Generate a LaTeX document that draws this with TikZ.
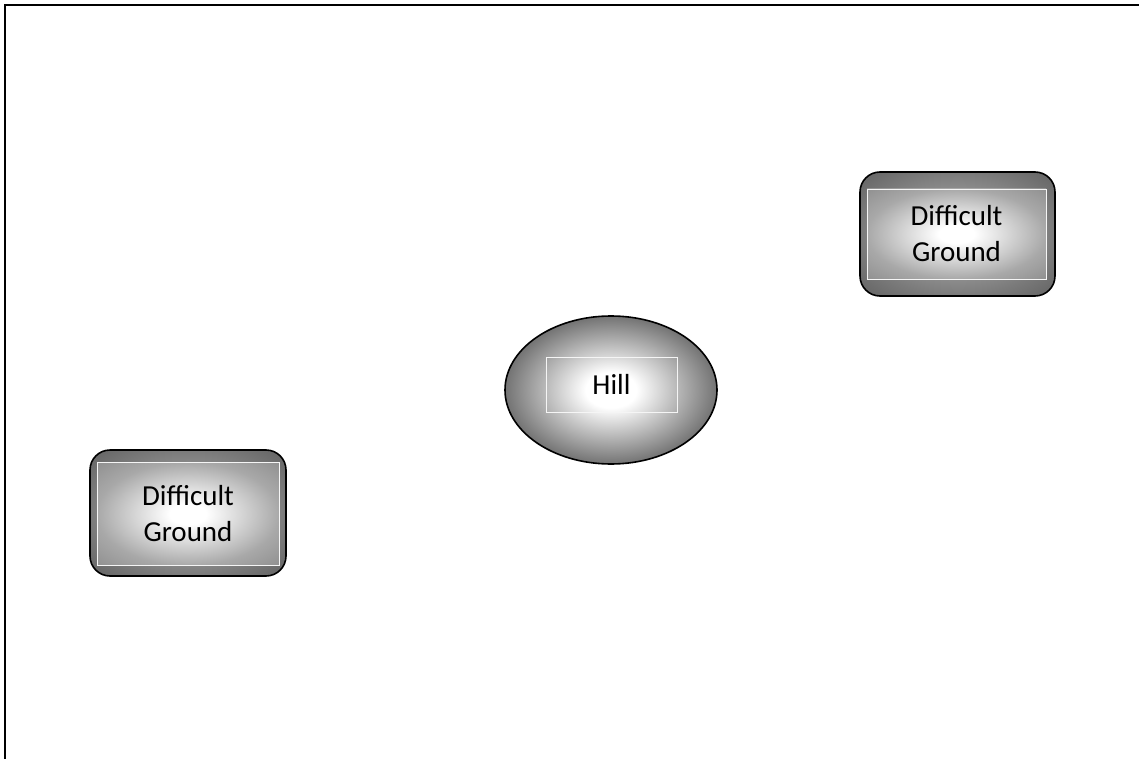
\documentclass[tikz,border=0pt]{standalone}
\usepackage{fontspec}
\setmainfont{Carlito}
\usetikzlibrary{shapes.geometric}
\pgfdeclareradialshading{hillglow}{\pgfpoint{0bp}{0bp}}{color(0bp)=(white); color(6bp)=(white); color(25bp)=(black!55); color(36bp)=(black!65); color(50bp)=(black!65)}
\pgfdeclareradialshading{bandglow}{\pgfpoint{0bp}{0bp}}{color(0bp)=(white); color(15bp)=(black!42); color(25bp)=(black!52); color(36bp)=(black!62); color(50bp)=(black!62)}
\pgfdeclareradialshading{innerglow}{\pgfpoint{0bp}{0bp}}{color(0bp)=(white); color(5bp)=(white); color(25bp)=(black!34); color(36bp)=(black!44); color(50bp)=(black!44)}
\tikzset{
  framebox/.style={rounded corners=20pt, draw=black, line width=1.6pt, shading=bandglow, inner sep=0pt},
  innerbox/.style={rectangle, draw=white!92!gray, line width=0.8pt, shading=innerglow, inner sep=0pt, align=center, font=\fontsize{29}{36}\selectfont},
  hillshape/.style={ellipse, draw=black, line width=1.6pt, shading=hillglow, inner sep=0pt},
  hillbox/.style={rectangle, draw=white!92!gray, line width=0.8pt, inner sep=0pt, font=\fontsize{29}{36}\selectfont},
}
\begin{document}
\begin{tikzpicture}[x=1pt,y=-1pt]
\useasboundingbox (0,0) rectangle (1139,759);
\draw[line width=2pt] (5,760) -- (5,5) -- (1139,5);
% top right
\node[framebox, minimum width=195pt, minimum height=124pt] (tr) at (957.5,234) {};
\node[innerbox, minimum width=179pt, minimum height=90pt] (tri) at (956.5,234) {Difficult\\Ground};
% hill
\node[hillshape, minimum width=212pt, minimum height=148pt] (hill) at (611,390) {};
\node[hillbox, minimum width=131pt, minimum height=55pt] (hilli) at (611.5,384.5) {Hill};
% bottom left
\node[framebox, minimum width=196pt, minimum height=126pt] (bl) at (188,513) {};
\node[innerbox, minimum width=182pt, minimum height=103pt] (bli) at (188,514) {Difficult\\Ground};
\end{tikzpicture}
\end{document}
